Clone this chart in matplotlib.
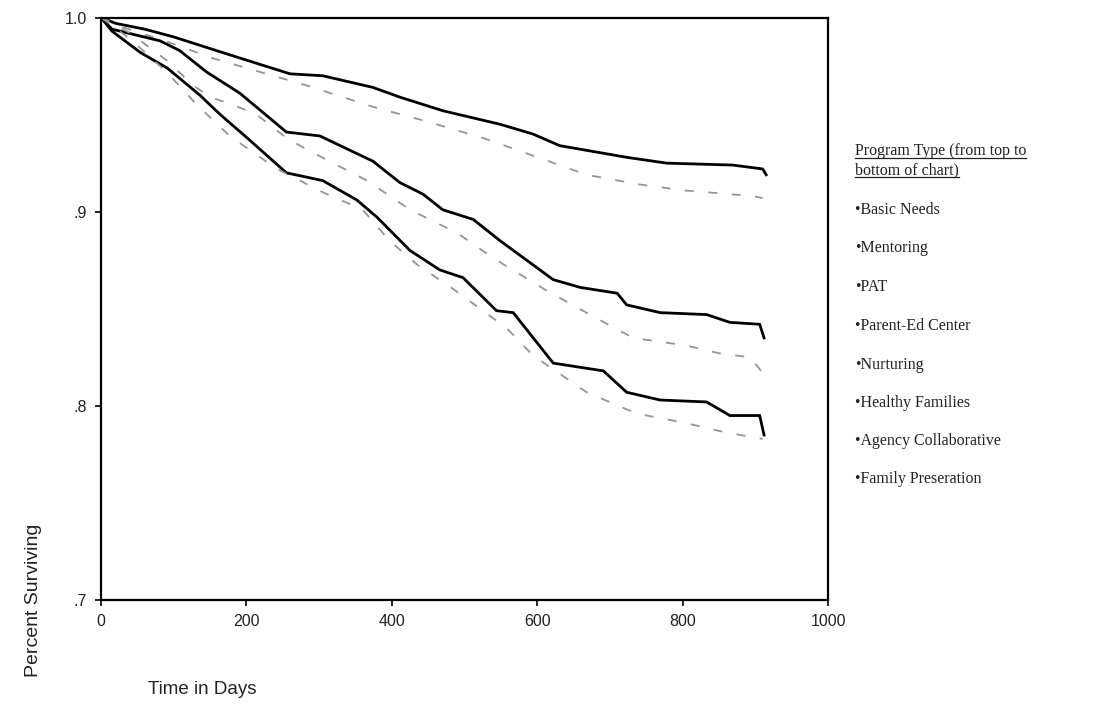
import matplotlib
matplotlib.use("Agg")
import matplotlib.pyplot as plt
from matplotlib.lines import Line2D

# ---- data ----
basic_needs_days = [0, 20, 60, 100, 150, 209, 260, 305, 374, 411, 470, 549, 594, 631, 723, 778, 869, 910, 915]
basic_needs_surv = [1.0, 0.997, 0.994, 0.990, 0.984, 0.977, 0.971, 0.970, 0.964, 0.959, 0.952, 0.945, 0.940, 0.934, 0.928, 0.925, 0.924, 0.922, 0.919]

mentoring_days = [0, 30, 95, 154, 209, 283, 374, 443, 525, 563, 668, 741, 801, 897, 910]
mentoring_surv = [1.0, 0.995, 0.987, 0.979, 0.973, 0.965, 0.954, 0.947, 0.938, 0.933, 0.919, 0.914, 0.911, 0.908, 0.907]

pat_days = [0, 15, 81, 108, 145, 191, 255, 301, 374, 411, 443, 470, 512, 549, 622, 659, 710, 723, 769, 833, 865, 906, 912]
pat_surv = [1.0, 0.994, 0.988, 0.983, 0.972, 0.961, 0.941, 0.939, 0.926, 0.915, 0.909, 0.901, 0.896, 0.885, 0.865, 0.861, 0.858, 0.852, 0.848, 0.847, 0.843, 0.842, 0.835]

parent_ed_days = [0, 40, 90, 127, 150, 182, 214, 255, 283, 366, 425, 490, 540, 610, 682, 732, 806, 851, 893, 910]
parent_ed_surv = [1.0, 0.992, 0.978, 0.965, 0.959, 0.955, 0.950, 0.938, 0.932, 0.916, 0.901, 0.889, 0.876, 0.860, 0.845, 0.835, 0.831, 0.827, 0.825, 0.817]

healthy_days = [0, 15, 54, 91, 136, 164, 201, 255, 305, 352, 380, 425, 466, 498, 544, 567, 622, 691, 723, 769, 833, 865, 906, 912]
healthy_surv = [1.0, 0.993, 0.982, 0.974, 0.960, 0.950, 0.938, 0.920, 0.916, 0.906, 0.897, 0.880, 0.870, 0.866, 0.849, 0.848, 0.822, 0.818, 0.807, 0.803, 0.802, 0.795, 0.795, 0.785]

agency_days = [0, 40, 90, 132, 177, 242, 305, 360, 397, 434, 485, 558, 594, 668, 737, 806, 851, 893, 910]
agency_surv = [1.0, 0.989, 0.972, 0.955, 0.939, 0.922, 0.910, 0.901, 0.885, 0.873, 0.860, 0.840, 0.826, 0.807, 0.796, 0.791, 0.787, 0.784, 0.783]

x_ticks = [0, 200, 400, 600, 800, 1000]
y_ticks = [0.7, 0.8, 0.9, 1.0]
y_tick_labels = [".7", ".8", ".9", "1.0"]

programs = ["Basic Needs", "Mentoring", "PAT", "Parent-Ed Center", "Nurturing",
            "Healthy Families", "Agency Collaborative", "Family Preseration"]

# ---- figure ----
fig = plt.figure(figsize=(11.03, 7.12), dpi=100)
ax = fig.add_axes([0.0916, 0.1573, 0.6591, 0.8181])

solid = dict(color="black", lw=2.0, solid_joinstyle="miter")
dashed = dict(color="#959595", lw=1.3, linestyle=(0, (5, 8)))

ax.plot(basic_needs_days, basic_needs_surv, **solid)
ax.plot(mentoring_days, mentoring_surv, **dashed)
ax.plot(pat_days, pat_surv, **solid)
ax.plot(parent_ed_days, parent_ed_surv, **dashed)
ax.plot(healthy_days, healthy_surv, **solid)
ax.plot(agency_days, agency_surv, **dashed)

ax.set_xlim(0, 1000)
ax.set_ylim(0.7, 1.0)
ax.set_xticks(x_ticks)
ax.set_xticklabels([str(t) for t in x_ticks])
ax.set_yticks(y_ticks)
ax.set_yticklabels(y_tick_labels)
for s in ax.spines.values():
    s.set_linewidth(1.6)
    s.set_color("black")
ax.tick_params(axis="both", direction="out", length=4, width=1.2,
               labelsize=11.5, colors="black", pad=6)
for lab in ax.get_xticklabels() + ax.get_yticklabels():
    lab.set_family("Liberation Sans")
    lab.set_color("#222222")

fig.text(0.030, 0.157, "Percent Surviving", rotation=90, ha="center", va="center",
         fontsize=14, family="Liberation Sans", color="#222222")
fig.text(0.134, 0.031, "Time in Days", ha="left", va="center",
         fontsize=13.5, family="Liberation Sans", color="#222222")

# right-hand text list
t1 = fig.text(0.775, 0.788, "Program Type (from top to", ha="left", va="center",
              fontsize=11.5, family="Liberation Serif", color="#222222")
t2 = fig.text(0.775, 0.761, "bottom of chart)", ha="left", va="center",
              fontsize=11.5, family="Liberation Serif", color="#222222")
item_y = [0.705, 0.651, 0.597, 0.542, 0.488, 0.434, 0.380, 0.327]
for name, yy in zip(programs, item_y):
    fig.text(0.775, yy, "\u2022" + name, ha="left", va="center",
             fontsize=11.5, family="Liberation Serif", color="#222222")

fig.canvas.draw()
r = fig.canvas.get_renderer()
for t in (t1, t2):
    bb = t.get_window_extent(renderer=r)
    x0, x1 = bb.x0 / fig.bbox.width, bb.x1 / fig.bbox.width
    yl = (bb.y0 + 1) / fig.bbox.height
    fig.add_artist(Line2D([x0, x1], [yl, yl], transform=fig.transFigure,
                          color="#222222", lw=0.9))

fig.savefig("out.png", dpi=100, facecolor="white")
